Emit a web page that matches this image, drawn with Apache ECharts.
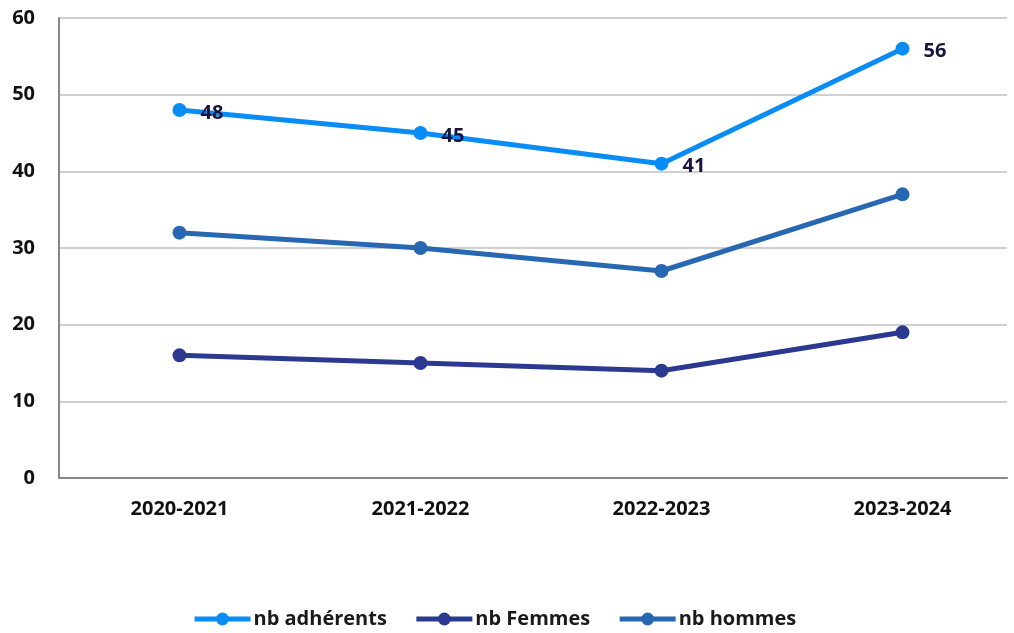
<!DOCTYPE html>
<html>
<head>
<meta charset="utf-8">
<script src="https://cdn.jsdelivr.net/npm/echarts@6/dist/echarts.min.js"></script>
<style>html,body{margin:0;padding:0;background:#fff}#c{width:1014px;height:633px}</style>
</head>
<body>
<div id="c"></div>
<script>
const categories = ['2020-2021', '2021-2022', '2022-2023', '2023-2024'];
const adherents = [48, 45, 41, 56];
const femmes = [16, 15, 14, 19];
const hommes = [32, 30, 27, 37];
const yTicks = [0, 10, 20, 30, 40, 50, 60];

const FONT = '"Open Sans", "Noto Sans", sans-serif';
const chart = echarts.init(document.getElementById('c'));
function line(name, data, color, label) {
  return {
    name, type: 'line', data,
    xAxisIndex: 1, yAxisIndex: 1,
    symbol: 'circle', symbolSize: 14,
    lineStyle: { width: 5, color },
    itemStyle: { color },
    label: label ? { show: true, position: 'right', distance: 14, offset: [0, 3],
      fontFamily: FONT, fontWeight: 'bold', fontSize: 20, color: '#16163f' } : { show: false },
    emphasis: { disabled: true },
    clip: false,
    animation: false
  };
}
chart.setOption({
  animation: false,
  grid: [
    { left: 59, top: 18, bottom: 155, right: 7, outerBoundsMode: 'none', containLabel: false },
    { left: 59, top: 18, bottom: 155, width: 964, outerBoundsMode: 'none', containLabel: false }
  ],
  legend: {
    top: 604, left: 187, itemWidth: 56, itemHeight: 16, itemGap: 27,
    lineStyle: { width: 5 },
    textStyle: { fontFamily: FONT, fontWeight: 'bold', fontSize: 20, color: '#1a1a1a', padding: [0, 0, 0, -2] },
    data: ['nb adhérents', 'nb Femmes', 'nb hommes']
  },
  xAxis: [
    { type: 'category', gridIndex: 0, data: categories, boundaryGap: true,
      axisLine: { lineStyle: { color: '#888', width: 2 } },
      axisTick: { show: false }, axisLabel: { show: false } },
    { type: 'category', gridIndex: 1, data: categories, boundaryGap: true,
      axisLine: { show: false }, axisTick: { show: false },
      axisLabel: { margin: 21, fontFamily: FONT, fontWeight: 'bold', fontSize: 20, color: '#111' } }
  ],
  yAxis: [
    { type: 'value', gridIndex: 0, min: 0, max: 60, interval: 10,
      axisLine: { show: true, lineStyle: { color: '#888', width: 2 } },
      axisTick: { show: false },
      splitLine: { lineStyle: { color: '#c0c0c0', width: 1.5 } },
      axisLabel: { margin: 24, fontFamily: FONT, fontWeight: 'bold', fontSize: 20, color: '#111',
        formatter: v => yTicks.includes(v) ? String(v) : '' } },
    { type: 'value', gridIndex: 1, min: 0, max: 60, interval: 10, show: false,
      splitLine: { show: false } }
  ],
  series: [
    line('nb adhérents', adherents, '#0A8CF5', true),
    line('nb Femmes', femmes, '#2B3990', false),
    line('nb hommes', hommes, '#2867B2', false)
  ]
});
</script>
</body>
</html>
